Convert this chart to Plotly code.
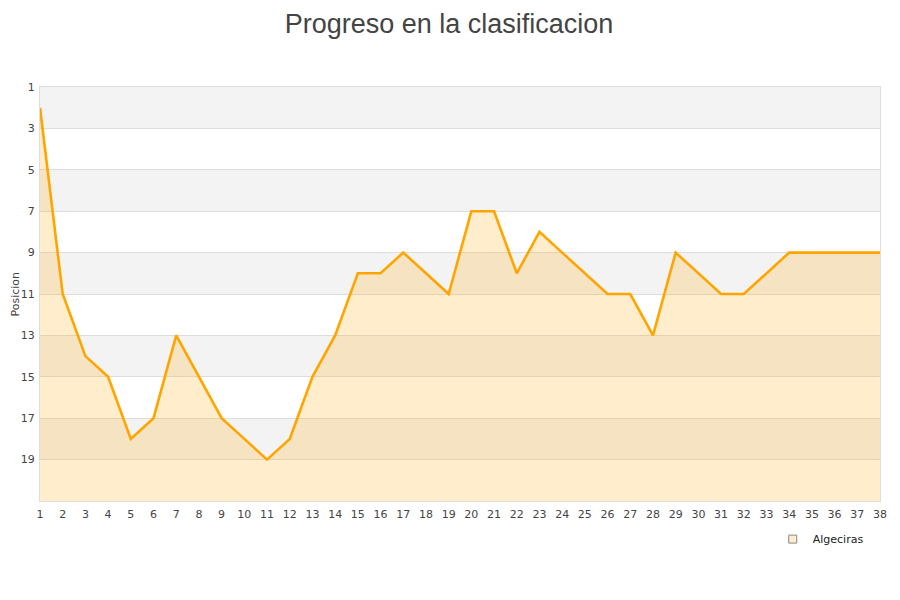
import plotly.graph_objects as go

jornadas = list(range(1, 39))
posiciones = [2, 11, 14, 15, 18, 17, 13, 15, 17, 18, 19, 18, 15, 13, 10, 10, 9, 10, 11, 7,
              7, 10, 8, 9, 10, 11, 11, 13, 9, 10, 11, 11, 10, 9, 9, 9, 9, 9]
y_ticks = [1, 3, 5, 7, 9, 11, 13, 15, 17, 19]
equipo = "Algeciras"
titulo = "Progreso en la clasificacion"
y_titulo = "Posicion"
y_min, y_max = 1, 21

fig = go.Figure()

# baseline for fill (bottom of axis)
fig.add_trace(go.Scatter(x=jornadas, y=[y_max] * len(jornadas), mode="lines",
                         line=dict(width=0, color="rgba(0,0,0,0)"),
                         showlegend=False, hoverinfo="skip"))
fig.add_trace(go.Scatter(x=jornadas, y=posiciones, mode="lines", fill="tonexty",
                         fillcolor="rgba(255,165,0,0.2)",
                         line=dict(color="#FFA500", width=2.6),
                         name=equipo, showlegend=False))
# legend entry
fig.add_trace(go.Scatter(x=[None], y=[None], mode="markers", name=equipo,
                         marker=dict(symbol="square", size=8, color="#FFEDCC",
                                     line=dict(color="#888888", width=1))))

shapes = []
for t in y_ticks[::2]:
    shapes.append(dict(type="rect", xref="paper", yref="y", x0=0, x1=1, y0=t, y1=t + 2,
                       fillcolor="#F3F3F3", line=dict(width=0), layer="below"))

fig.update_layout(
    width=900, height=600,
    paper_bgcolor="white", plot_bgcolor="white",
    margin=dict(l=32, r=28, t=79, b=107, autoexpand=False),
    title=dict(text=titulo, x=0.49, xanchor="center", y=0.99, yanchor="top", yref="container",
               font=dict(family="Liberation Sans, Arial", size=27, color="#444444")),
    shapes=shapes,
    annotations=[dict(text=y_titulo, xref="paper", yref="paper", x=-0.0381, y=0.5,
                      xanchor="left", yanchor="middle", textangle=-90, showarrow=False,
                      borderpad=0,
                      font=dict(family="DejaVu Sans", size=11, color="#444444"))],
    showlegend=True,
    legend=dict(x=0.9866, xanchor="right", y=-0.057, yanchor="top",
                font=dict(family="DejaVu Sans", size=11, color="#222222"),
                bgcolor="rgba(0,0,0,0)"),
    font=dict(family="DejaVu Sans", size=11, color="#444444"),
)
fig.update_xaxes(range=[1, 38], tickmode="array", tickvals=jornadas, automargin=False,
                 showgrid=False, zeroline=False, showline=True, linecolor="#DDDDDD",
                 mirror=True, ticks="", ticklabelstandoff=3,
                 tickfont=dict(size=11, color="#444444"))
fig.update_yaxes(range=[y_max, y_min], tickmode="array", tickvals=y_ticks, automargin=False,
                 showgrid=True, gridcolor="#DDDDDD", zeroline=False, showline=True,
                 linecolor="#DDDDDD", mirror=True, ticks="", ticklabelstandoff=2,
                 tickfont=dict(size=11, color="#444444"))

fig.write_html("out.html")
